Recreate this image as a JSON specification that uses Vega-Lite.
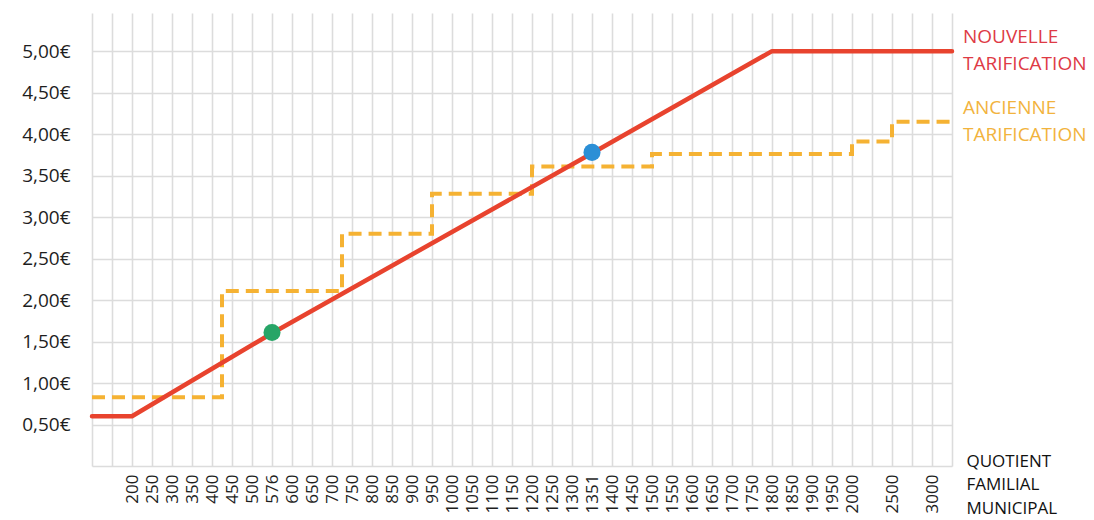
{
  "$schema": "https://vega.github.io/schema/vega-lite/v6.json",
  "width": 860,
  "height": 453,
  "autosize": {"type": "none"},
  "padding": {"left": 92, "top": 13, "right": 142, "bottom": 54},
  "background": "white",
  "config": {
    "view": {"stroke": null},
    "font": "Open Sans"
  },
  "datasets": {
    "tarifs": [
      {"serie": "nouvelle", "qf": "100", "tarif": 0.60},
      {"serie": "nouvelle", "qf": "200", "tarif": 0.60},
      {"serie": "nouvelle", "qf": "576", "tarif": 1.60},
      {"serie": "nouvelle", "qf": "1351", "tarif": 3.77},
      {"serie": "nouvelle", "qf": "1800", "tarif": 5.00},
      {"serie": "nouvelle", "qf": "3250", "tarif": 5.00},
      {"serie": "ancienne", "qf": "100", "tarif": 0.83},
      {"serie": "ancienne", "qf": "400", "tarif": 0.83},
      {"serie": "ancienne", "qf": "450", "tarif": 2.11},
      {"serie": "ancienne", "qf": "700", "tarif": 2.11},
      {"serie": "ancienne", "qf": "750", "tarif": 2.80},
      {"serie": "ancienne", "qf": "900", "tarif": 2.80},
      {"serie": "ancienne", "qf": "1000", "tarif": 3.28},
      {"serie": "ancienne", "qf": "1150", "tarif": 3.28},
      {"serie": "ancienne", "qf": "1250", "tarif": 3.61},
      {"serie": "ancienne", "qf": "1450", "tarif": 3.61},
      {"serie": "ancienne", "qf": "1550", "tarif": 3.76},
      {"serie": "ancienne", "qf": "1950", "tarif": 3.76},
      {"serie": "ancienne", "qf": "2250", "tarif": 3.91},
      {"serie": "ancienne", "qf": "2750", "tarif": 4.15},
      {"serie": "ancienne", "qf": "3250", "tarif": 4.15}
    ],
    "exemples": [
      {"qf": "576", "tarif": 1.61},
      {"qf": "1351", "tarif": 3.78}
    ],
    "etiquettes": [
      {"serie": "nouvelle", "qf": "3250", "tarif": 5.00, "texte": "NOUVELLE\nTARIFICATION"},
      {"serie": "ancienne", "qf": "3250", "tarif": 4.15, "texte": "ANCIENNE\nTARIFICATION"}
    ]
  },
  "encoding": {
    "x": {
      "field": "qf",
      "type": "ordinal",
      "scale": {
        "type": "point",
        "padding": 0,
        "domain": ["100","150","200","250","300","350","400","450","500","576","600","650","700","750","800","850","900","950","1000","1050","1100","1150","1200","1250","1300","1351","1400","1450","1500","1550","1600","1650","1700","1750","1800","1850","1900","1950","2000","2250","2500","2750","3000","3250"]
      },
      "axis": {
        "title": ["QUOTIENT", "FAMILIAL", "MUNICIPAL"],
        "titleFont": "Open Sans",
        "titleFontSize": 17,
        "titleFontWeight": "normal",
        "titleColor": "#111111",
        "titleAngle": 0,
        "titleAlign": "left",
        "titleBaseline": "top",
        "titleX": 874,
        "titleY": -13,
        "titleLineHeight": 23.5,
        "domain": false,
        "ticks": false,
        "grid": true,
        "gridColor": "#dcdcdc",
        "gridWidth": 1.6,
        "labelAngle": -90,
        "labelFontSize": 17,
        "labelColor": "#1e1e1e",
        "labelPadding": 8,
        "labelOverlap": false,
        "labelBound": false,
        "labelExpr": "indexof(['100','150','2250','2750','3250'], datum.value) >= 0 ? '' : datum.value",
        "encode": {
          "labels": {
            "update": {
              "fill": {"signal": "datum.value == '576' ? '#3dbb7a' : datum.value == '1351' ? '#3aa6e0' : '#1e1e1e'"}
            }
          }
        }
      }
    },
    "y": {
      "field": "tarif",
      "type": "quantitative",
      "scale": {"domain": [0, 5.46], "nice": false, "zero": true},
      "axis": {
        "title": null,
        "values": [0, 0.5, 1, 1.5, 2, 2.5, 3, 3.5, 4, 4.5, 5],
        "domain": false,
        "ticks": false,
        "grid": true,
        "gridColor": "#dcdcdc",
        "gridWidth": 1.6,
        "labelFontSize": 19,
        "labelColor": "#1e1e1e",
        "labelPadding": 22,
        "labelExpr": "datum.value == 0 ? '' : replace(format(datum.value, '.2f'), '.', ',') + '€'"
      }
    }
  },
  "resolve": {"scale": {"color": "independent"}},
  "layer": [
    {
      "data": {"name": "tarifs"},
      "transform": [{"filter": "datum.serie == 'ancienne'"}],
      "mark": {"type": "line", "interpolate": "step", "color": "#f5b233", "strokeWidth": 4, "strokeDash": [13, 7]},
      "encoding": {}
    },
    {
      "data": {"name": "tarifs"},
      "transform": [{"filter": "datum.serie == 'nouvelle'"}],
      "mark": {"type": "line", "color": "#e8432e", "strokeWidth": 4.5, "strokeCap": "round", "strokeJoin": "round"},
      "encoding": {}
    },
    {
      "data": {"name": "exemples"},
      "mark": {"type": "point", "filled": true, "opacity": 1, "size": 290},
      "encoding": {
        "color": {"field": "qf", "type": "nominal", "scale": {"domain": ["576", "1351"], "range": ["#27a567", "#2b8fd6"]}, "legend": null}
      }
    },
    {
      "data": {"name": "etiquettes"},
      "mark": {"type": "text", "align": "left", "baseline": "middle", "dx": 11, "dy": -14, "font": "Open Sans", "fontSize": 19, "lineBreak": "\n", "lineHeight": 27},
      "encoding": {
        "text": {"field": "texte"},
        "color": {"field": "serie", "type": "nominal", "scale": {"domain": ["nouvelle", "ancienne"], "range": ["#de3a45", "#f2b33d"]}, "legend": null}
      }
    }
  ]
}
